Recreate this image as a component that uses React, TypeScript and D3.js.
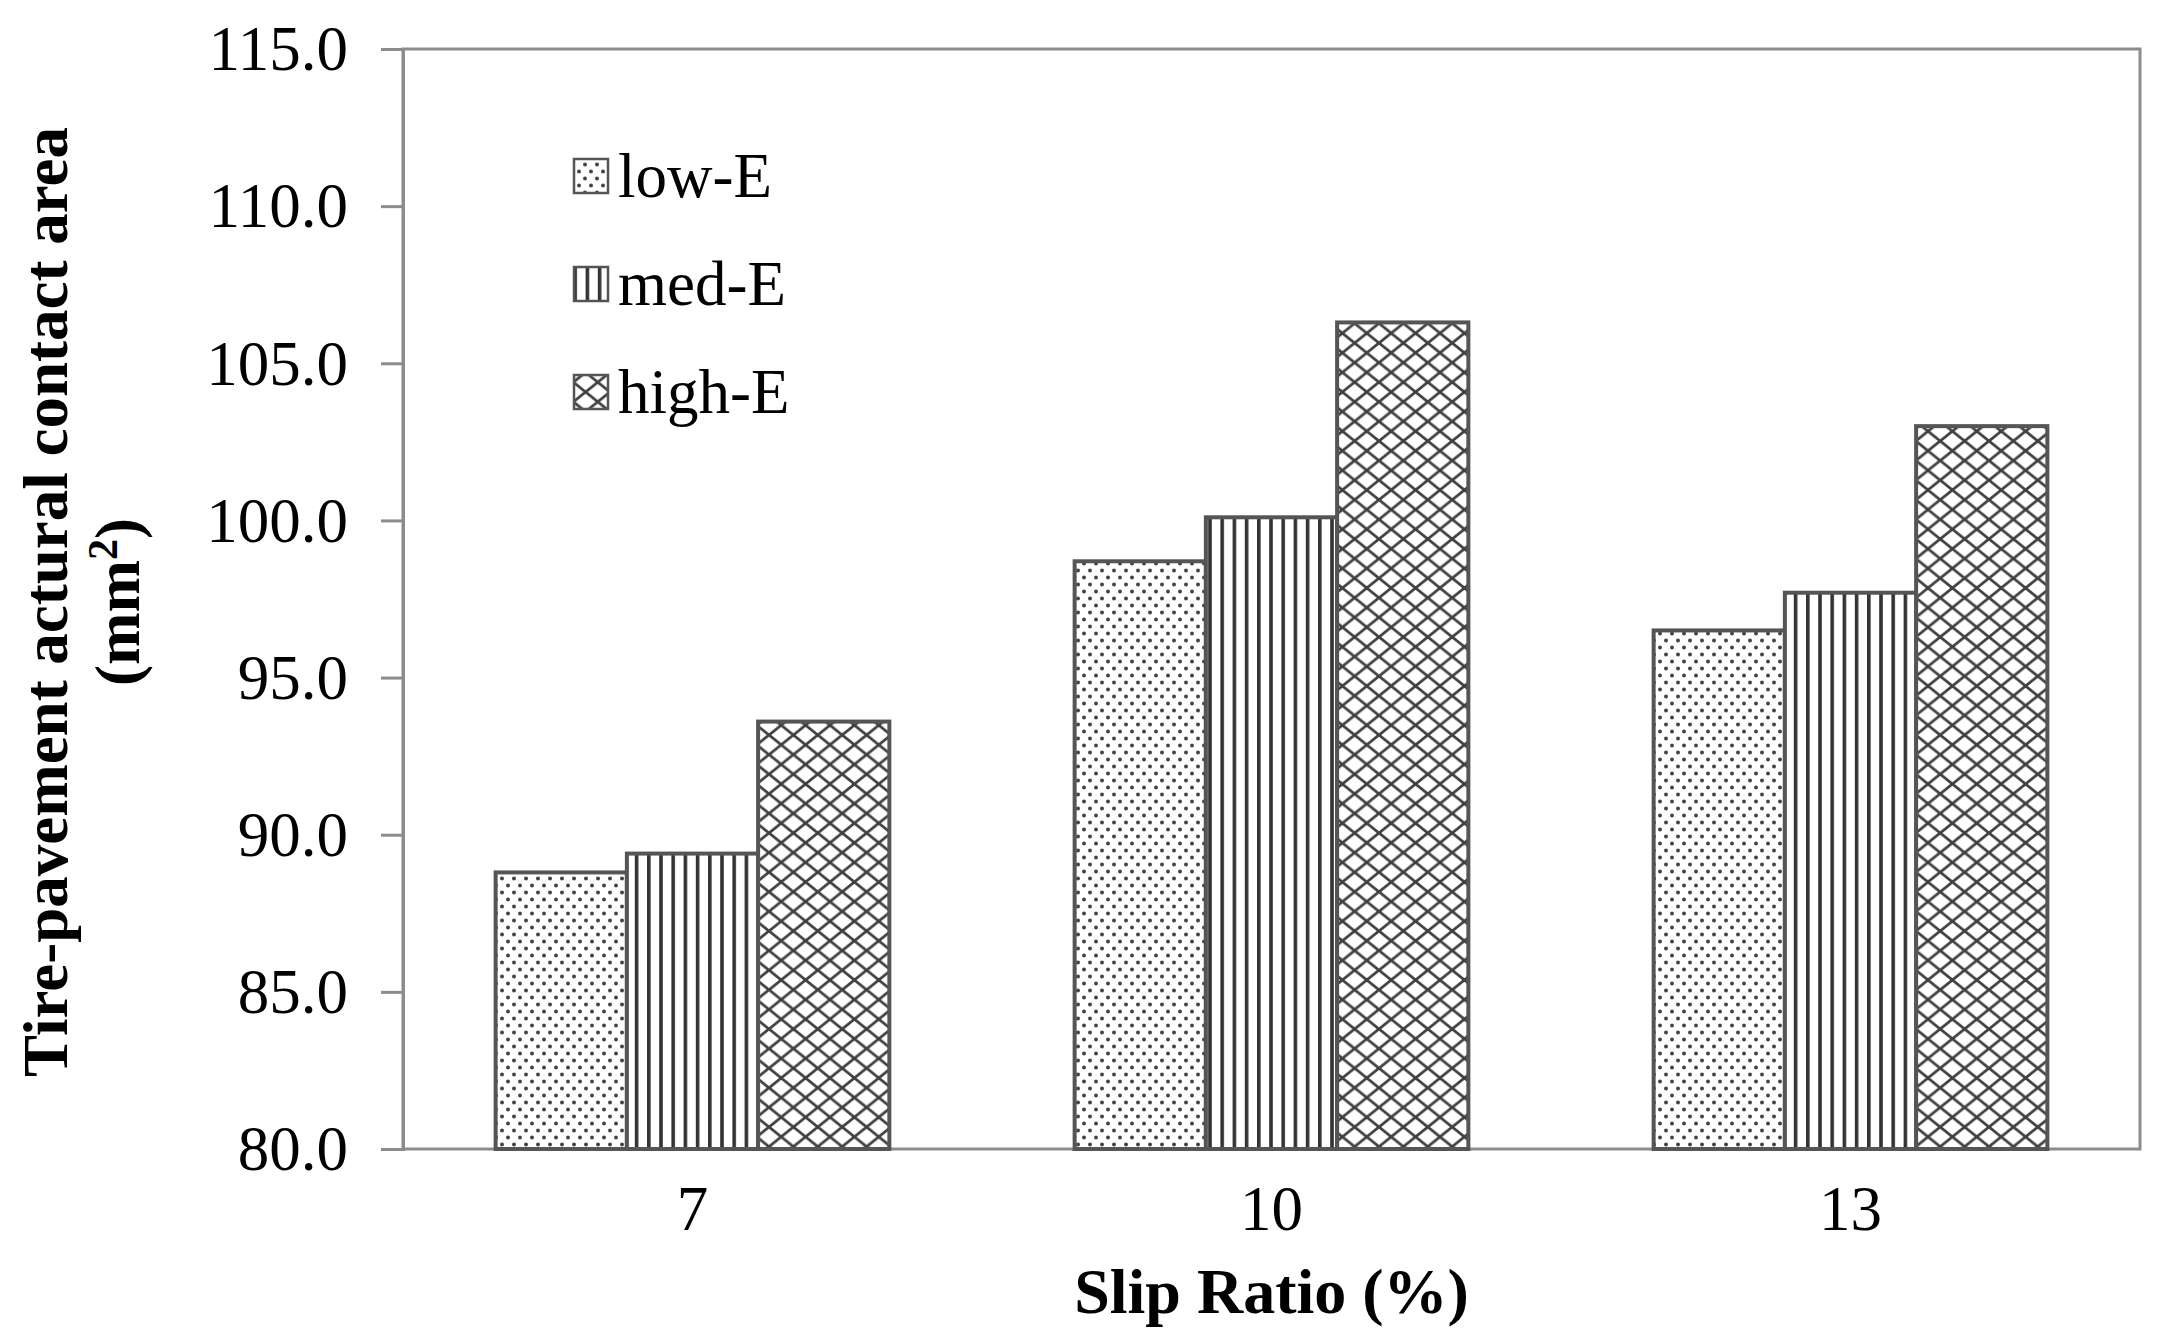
import React, { useRef, useEffect } from 'react'
import * as d3 from 'd3'

const categories = ['7', '10', '13']
const seriesNames = ['low-E', 'med-E', 'high-E']
const lowE = [88.8, 98.7, 96.5]
const medE = [89.4, 100.1, 97.7]
const highE = [93.6, 106.3, 103.0]
const yTicks = [80, 85, 90, 95, 100, 105, 110, 115]

const W = 2161
const H = 1342
const FONT = "'Liberation Serif', 'Times New Roman', serif"

const App: React.FC = () => {
  const svgRef = useRef<SVGSVGElement>(null)

  useEffect(() => {
    const margin = { top: 49, right: W - 2140, bottom: H - 1149, left: 403 }
    const innerW = W - margin.left - margin.right
    const innerH = H - margin.top - margin.bottom
    const values = [lowE, medE, highE]
    const patternIds = ['pat-dots', 'pat-vert', 'pat-cross']

    const x0 = d3.scaleBand<string>().domain(categories).range([0, innerW])
    const groupW = x0.bandwidth() * 0.68
    const x1 = d3.scaleBand<string>().domain(seriesNames).range([0, groupW])
    const y = d3.scaleLinear().domain([80, 115]).range([innerH, 0])

    const svg = d3.select(svgRef.current!)
    svg.selectAll('*').remove()

    // fill patterns
    const defs = svg.append('defs')
    const dots = defs
      .append('pattern')
      .attr('id', 'pat-dots')
      .attr('patternUnits', 'userSpaceOnUse')
      .attr('width', 12)
      .attr('height', 14)
    dots.append('rect').attr('width', 12).attr('height', 14).attr('fill', 'white')
    dots.append('circle').attr('cx', 3).attr('cy', 3.5).attr('r', 2).attr('fill', '#444')
    dots.append('circle').attr('cx', 9).attr('cy', 10.5).attr('r', 2).attr('fill', '#444')

    const vert = defs
      .append('pattern')
      .attr('id', 'pat-vert')
      .attr('patternUnits', 'userSpaceOnUse')
      .attr('width', 12.2)
      .attr('height', 10)
    vert.append('rect').attr('width', 12.2).attr('height', 10).attr('fill', 'white')
    vert.append('rect').attr('x', 0).attr('width', 3.6).attr('height', 10).attr('fill', '#333')

    const cw = 24.4
    const ch = 19.6
    const cross = defs
      .append('pattern')
      .attr('id', 'pat-cross')
      .attr('patternUnits', 'userSpaceOnUse')
      .attr('width', cw)
      .attr('height', ch)
    cross.append('rect').attr('width', cw).attr('height', ch).attr('fill', 'white')
    cross
      .append('path')
      .attr('d', `M0,0L${cw},${ch}M${cw},0L0,${ch}M${-cw / 2},${ch / 2}L0,${ch}M${cw},0L${cw * 1.5},${ch / 2}`)
      .attr('stroke', '#404040')
      .attr('stroke-width', 2.8)
      .attr('fill', 'none')

    const g = svg.append('g').attr('transform', `translate(${margin.left},${margin.top})`)

    // plot border + axes
    g.append('rect')
      .attr('width', innerW)
      .attr('height', innerH)
      .attr('fill', 'none')
      .attr('stroke', '#8c8c8c')
      .attr('stroke-width', 3)

    const yAxis = g.append('g').call(
      d3
        .axisLeft(y)
        .tickValues(yTicks)
        .tickSize(22)
        .tickPadding(33)
        .tickFormat(d3.format('.1f') as any)
    )
    yAxis.select('.domain').attr('stroke', '#8c8c8c').attr('stroke-width', 3)
    yAxis.selectAll('.tick line').attr('stroke', '#8c8c8c').attr('stroke-width', 3)
    yAxis
      .selectAll('.tick text')
      .attr('dy', '0.33em')
      .style('font-family', FONT)
      .style('font-size', '63px')
      .attr('fill', 'black')

    // bars
    categories.forEach((c, i) => {
      const gx = x0(c)! + (x0.bandwidth() - groupW) / 2
      seriesNames.forEach((s, j) => {
        const v = values[j][i]
        g.append('rect')
          .attr('x', gx + x1(s)!)
          .attr('y', y(v))
          .attr('width', x1.bandwidth())
          .attr('height', innerH - y(v))
          .attr('fill', `url(#${patternIds[j]})`)
          .attr('stroke', '#555')
          .attr('stroke-width', 4)
      })
    })

    // x tick labels
    g.append('g')
      .attr('transform', `translate(0,${innerH})`)
      .selectAll('text')
      .data(categories)
      .join('text')
      .attr('x', (d) => x0(d)! + x0.bandwidth() / 2)
      .attr('y', 81)
      .attr('text-anchor', 'middle')
      .style('font-family', FONT)
      .style('font-size', '63px')
      .text((d) => d)

    // axis titles
    svg
      .append('text')
      .attr('x', margin.left + innerW / 2)
      .attr('y', 1313)
      .attr('text-anchor', 'middle')
      .style('font-family', FONT)
      .style('font-size', '64px')
      .style('font-weight', 'bold')
      .text('Slip Ratio (%)')

    const yt = svg
      .append('text')
      .attr('transform', 'translate(67,602) rotate(-90)')
      .attr('text-anchor', 'middle')
      .style('font-family', FONT)
      .style('font-size', '63px')
      .style('font-weight', 'bold')
    yt.append('tspan').attr('x', 0).attr('y', 0).text('Tire-pavement actural contact area')
    const l2 = yt.append('tspan').attr('x', 0).attr('y', 72)
    l2.append('tspan').text('(mm')
    l2.append('tspan').attr('dy', -22).style('font-size', '42px').text('2')
    l2.append('tspan').attr('dy', 22).text(')')

    // legend
    const legend = svg.append('g')
    seriesNames.forEach((s, j) => {
      const cy = 176 + j * 108
      legend
        .append('rect')
        .attr('x', 574)
        .attr('y', cy - 17)
        .attr('width', 34)
        .attr('height', 34)
        .attr('fill', `url(#${patternIds[j]})`)
        .attr('stroke', '#555')
        .attr('stroke-width', 2.5)
      legend
        .append('text')
        .attr('x', 618)
        .attr('y', cy + 21)
        .style('font-family', FONT)
        .style('font-size', '63px')
        .text(s)
    })
  }, [])

  return (
    <svg
      ref={svgRef}
      width={W}
      height={H}
      style={{ position: 'absolute', left: 0, top: 0, background: 'white' }}
    />
  )
}

export default App
